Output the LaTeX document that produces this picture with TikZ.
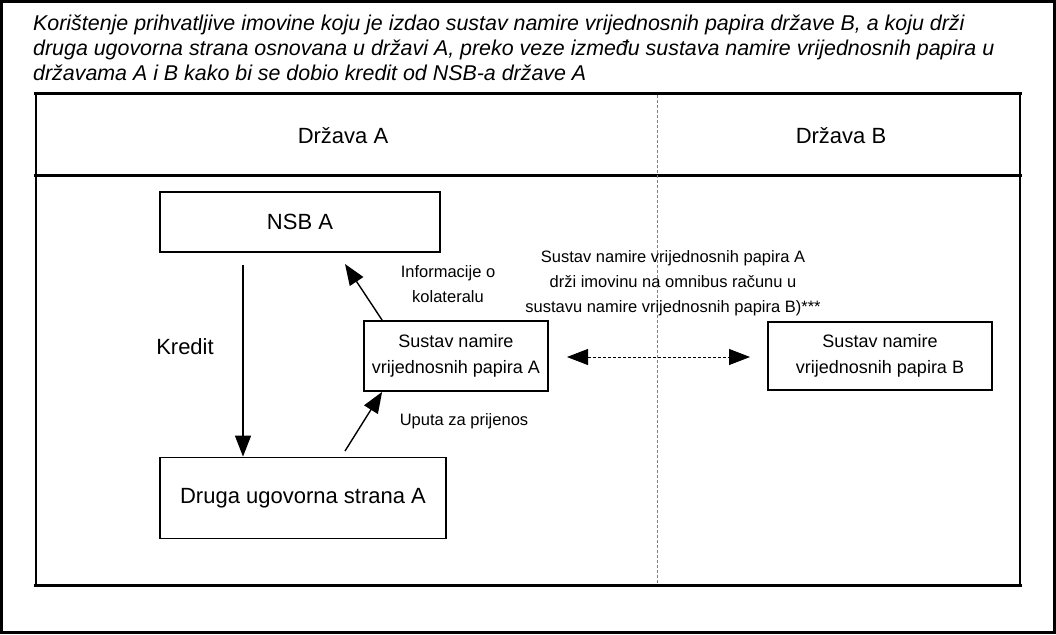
\documentclass[tikz,border=0pt]{standalone}
\usepackage{fontspec}
\setmainfont{Liberation Sans}
\usetikzlibrary{arrows.meta}
\begin{document}
\begin{tikzpicture}[x=1pt,y=-1pt,
  box/.style={draw,line width=1.8pt,inner sep=0pt,font=\fontsize{18}{26}\selectfont,align=center},
  lbl/.style={font=\fontsize{16.5}{25}\selectfont,align=center,inner sep=0pt},
  big/.style={font=\fontsize{22}{26}\selectfont},
  ttl/.style={anchor=base west,inner sep=0pt,font=\fontsize{21.4}{25}\selectfont\itshape},
  arr/.style={line width=1.4pt,-{Triangle[length=21pt,width=16pt]}},
  hdr/.style={font=\fontsize{22}{26}\selectfont,inner sep=0pt}]
\useasboundingbox (0,0) rectangle (1056,634);
% outer frame
\draw[line width=3pt] (1.5,1.5) rectangle (1054.5,632.5);
% title
\node[ttl] (t1) at (33,31) {Korištenje prihvatljive imovine koju je izdao sustav namire vrijednosnih papira države B, a koju drži};
\node[ttl] (t2) at (33,56) {druga ugovorna strana osnovana u državi A, preko veze između sustava namire vrijednosnih papira u};
\node[ttl] (t3) at (33,81) {državama A i B kako bi se dobio kredit od NSB-a države A};
% table
\draw[line width=1.5pt] (36,93) rectangle (1020,585);
\draw[line width=3pt] (34,93) -- (1022,93);
\draw[line width=3pt] (34,175) -- (1022,175);
\draw[line width=3pt] (34,585) -- (1022,585);
\draw[densely dashed,gray,line width=0.6pt] (657,95) -- (657,583);
\node[hdr] (ha) at (343,136) {Država A};
\node[hdr] (hb) at (841,136) {Država B};
% boxes
\node[box,big,minimum width=280pt,minimum height=60pt] (nsb) at (300,222) {NSB A};
\node[box,minimum width=184pt,minimum height=70pt] (ssa) at (456,356) {Sustav namire\\vrijednosnih papira A};
\node[box,minimum width=224pt,minimum height=68pt] (ssb) at (880,356) {Sustav namire\\vrijednosnih papira B};
\node[box,big,minimum width=286pt,minimum height=81pt] (dug) at (303,498) {Druga ugovorna strana A};
% connectors
\coordinate (k1) at (243,265);
\draw[arr] (k1) -- (dug.north -| k1);
\node[lbl,big] (kred) at (185,347) {Kredit};
\draw[arr] ([xshift=19pt]ssa.north west) -- (345,264);
\node[lbl] (inf) at (448,284) {Informacije o\\kolateralu};
\coordinate (u1) at (345,451);
\draw[arr] (u1) -- ([xshift=19pt]ssa.south west);
\node[lbl] (upu) at (464,421) {Uputa za prijenos};
\draw[densely dashed,line width=0.8pt,{Triangle[length=21pt,width=16pt]}-{Triangle[length=21pt,width=16pt]}] (567,357) -- (750,357);
\node[lbl] (omn) at (673,283) {Sustav namire vrijednosnih papira A\\drži imovinu na omnibus računu u\\sustavu namire vrijednosnih papira B)***};
\end{tikzpicture}
\end{document}
